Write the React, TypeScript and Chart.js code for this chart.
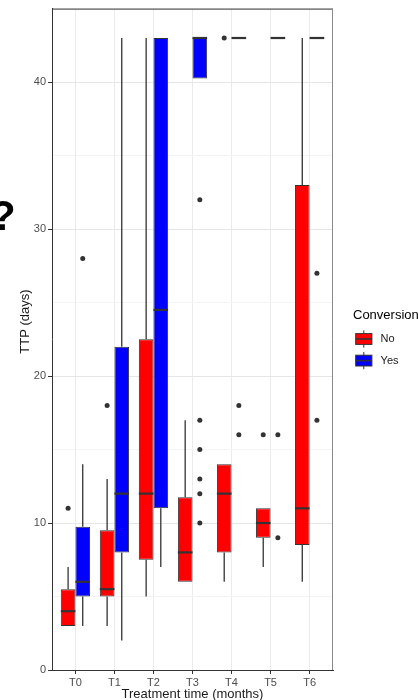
import React, { useEffect, useRef } from 'react';
import { Chart, registerables } from 'chart.js';

Chart.register(...registerables);

// ---- data ----
const categories = ['T0', 'T1', 'T2', 'T3', 'T4', 'T5', 'T6'];
const seriesNames = ['No', 'Yes'];
const seriesColors = ['#ff0000', '#0000ff'];

const noLower = [3, 3, 5, 6, 6, 7, 6];
const noQ1 = [3, 5, 7.5, 6, 8, 9, 8.5];
const noMedian = [4, 5.5, 12, 8, 12, 10, 11];
const noQ3 = [5.5, 9.5, 22.5, 11.75, 14, 11, 33];
const noUpper = [7, 13, 43, 17, 14, 11, 43];
const noOutliers = [[11], [18], [], [], [43], [16], []];

const yesLower = [3, 2, 7, 40.25, 43, 43, 43];
const yesQ1 = [5, 8, 11, 40.25, 43, 43, 43];
const yesMedian = [6, 12, 24.5, 43, 43, 43, 43];
const yesQ3 = [9.75, 22, 43, 43, 43, 43, 43];
const yesUpper = [14, 43, 43, 43, 43, 43, 43];
const yesOutliers = [[28], [], [], [32, 17, 15, 13, 12, 10], [18, 16], [16, 9], [27, 17]];

const yAxisMax = 45;
const yTickStep = 5;
const yLabelStep = 10;

const xTitle = 'Treatment time (months)';
const yTitle = 'TTP (days)';
const legendTitle = 'Conversion';

// ---- layout / style constants ----
const DODGE = 0.75;
const FONT = '"Liberation Sans", Arial, Helvetica, sans-serif';
const DARK = '#333333';

const boxStats = [
  { lower: noLower, median: noMedian, upper: noUpper },
  { lower: yesLower, median: yesMedian, upper: yesUpper },
];

const boxPlugin = {
  id: 'boxplotParts',
  beforeDatasetsDraw(chart: any) {
    const { ctx, chartArea } = chart;
    const y = chart.scales.y;
    ctx.save();
    // panel border top / right
    ctx.strokeStyle = DARK;
    ctx.lineWidth = 1;
    ctx.beginPath();
    ctx.moveTo(chartArea.left, chartArea.top + 0.5);
    ctx.lineTo(chartArea.right, chartArea.top + 0.5);
    ctx.stroke();
    ctx.strokeStyle = '#8a8a8a';
    ctx.beginPath();
    ctx.moveTo(chartArea.right - 0.5, chartArea.top);
    ctx.lineTo(chartArea.right - 0.5, chartArea.bottom);
    ctx.stroke();
    // whiskers
    ctx.strokeStyle = DARK;
    ctx.lineWidth = 1.3;
    boxStats.forEach((st, d) => {
      const meta = chart.getDatasetMeta(d);
      meta.data.forEach((el: any, i: number) => {
        const raw = chart.data.datasets[d].data[i].y;
        const x = el.x;
        ctx.beginPath();
        ctx.moveTo(x, y.getPixelForValue(st.lower[i]));
        ctx.lineTo(x, y.getPixelForValue(raw[0]));
        ctx.moveTo(x, y.getPixelForValue(raw[1]));
        ctx.lineTo(x, y.getPixelForValue(st.upper[i]));
        ctx.stroke();
      });
    });
    ctx.restore();
  },
  afterDatasetsDraw(chart: any) {
    const { ctx, chartArea } = chart;
    const y = chart.scales.y;
    ctx.save();
    // medians
    ctx.strokeStyle = DARK;
    ctx.lineWidth = 2.2;
    boxStats.forEach((st, d) => {
      const meta = chart.getDatasetMeta(d);
      meta.data.forEach((el: any, i: number) => {
        const py = y.getPixelForValue(st.median[i]);
        ctx.beginPath();
        ctx.moveTo(el.x - el.width / 2, py);
        ctx.lineTo(el.x + el.width / 2, py);
        ctx.stroke();
      });
    });
    // axis titles
    ctx.fillStyle = '#1a1a1a';
    ctx.font = `13px ${FONT}`;
    ctx.textAlign = 'center';
    ctx.textBaseline = 'alphabetic';
    ctx.fillText(xTitle, (chartArea.left + chartArea.right) / 2, 698);
    ctx.save();
    ctx.translate(25, 321.5);
    ctx.rotate(-Math.PI / 2);
    ctx.textBaseline = 'middle';
    ctx.fillText(yTitle, 0, 0);
    ctx.restore();
    // legend
    const lx = chartArea.right + 20;
    ctx.textAlign = 'left';
    ctx.textBaseline = 'middle';
    ctx.font = `13px ${FONT}`;
    ctx.fillStyle = '#000';
    ctx.fillText(legendTitle, lx, 315);
    const kw = 21.6;
    seriesNames.forEach((name, k) => {
      const cy = 339 + k * kw;
      const cx = lx + kw / 2;
      ctx.strokeStyle = DARK;
      ctx.lineWidth = 1;
      ctx.beginPath();
      ctx.moveTo(cx, cy - kw * 0.4);
      ctx.lineTo(cx, cy + kw * 0.4);
      ctx.stroke();
      ctx.fillStyle = seriesColors[k];
      const bx = lx + kw * 0.125;
      const by = cy - kw * 0.25;
      ctx.fillRect(bx, by, kw * 0.75, kw * 0.5);
      ctx.strokeRect(bx, by, kw * 0.75, kw * 0.5);
      ctx.lineWidth = 1.6;
      ctx.beginPath();
      ctx.moveTo(bx, cy);
      ctx.lineTo(bx + kw * 0.75, cy);
      ctx.stroke();
      ctx.fillStyle = '#1a1a1a';
      ctx.font = `11px ${FONT}`;
      ctx.fillText(name, lx + kw + 6, cy);
    });
    ctx.restore();
  },
};

export default function App() {
  const ref = useRef<HTMLCanvasElement>(null);

  useEffect(() => {
    const canvas = ref.current;
    if (!canvas) return;
    const q1s = [noQ1, yesQ1];
    const q3s = [noQ3, yesQ3];
    const outs = [noOutliers, yesOutliers];
    const barSets = seriesNames.map((name, d) => ({
      type: 'bar' as const,
      label: name,
      data: categories.map((_, i) => ({ x: i, y: [q1s[d][i], q3s[d][i]] })),
      backgroundColor: seriesColors[d],
      borderColor: DARK,
      borderWidth: 1,
      borderSkipped: false,
      categoryPercentage: DODGE,
      barPercentage: 1,
      order: 1,
    }));
    const outlierSets = seriesNames.map((name, d) => ({
      type: 'scatter' as const,
      label: name + ' outliers',
      data: categories.flatMap((_, i) =>
        outs[d][i].map((v) => ({ x: i + (d === 0 ? -1 : 1) * (DODGE / 4), y: v }))
      ),
      backgroundColor: DARK,
      borderWidth: 0,
      pointRadius: 2.5,
      order: 0,
    }));

    const chart = new Chart(canvas, {
      type: 'bar',
      data: { datasets: [...barSets, ...outlierSets] as any },
      options: {
        responsive: false,
        animation: false,
        devicePixelRatio: 1,
        layout: { padding: { top: 8, right: 85, left: 0, bottom: 0 } },
        plugins: { legend: { display: false }, tooltip: { enabled: false } },
        scales: {
          x: {
            type: 'linear',
            min: -0.6,
            max: categories.length - 0.4,
            offset: false,
            grid: { offset: false, color: '#ebebeb', tickColor: DARK, tickLength: 4, lineWidth: 1 },
            border: { color: DARK, width: 1 },
            ticks: {
              stepSize: 1,
              includeBounds: false,
              autoSkip: false,
              maxRotation: 0,
              padding: 2,
              color: '#4d4d4d',
              font: { family: FONT, size: 11 },
              callback: (v: any) => categories[v] ?? '',
            },
            afterFit: (s: any) => {
              s.height = 30;
            },
          },
          y: {
            type: 'linear',
            min: 0,
            max: yAxisMax,
            grid: {
              color: (c: any) => (c.tick && c.tick.value % yLabelStep === 0 ? '#e6e6e6' : '#f4f4f4'),
              tickColor: (c: any) => (c.tick && c.tick.value % yLabelStep === 0 && c.tick.value < yAxisMax ? DARK : 'rgba(0,0,0,0)'),
              tickLength: 4,
              lineWidth: 1,
            },
            border: { color: DARK, width: 1 },
            ticks: {
              stepSize: yTickStep,
              autoSkip: false,
              padding: 2,
              color: '#4d4d4d',
              font: { family: FONT, size: 11 },
              callback: (v: any) => (v % yLabelStep === 0 ? String(v) : ''),
            },
            afterFit: (s: any) => {
              s.width = 52;
            },
          },
        },
      } as any,
      plugins: [boxPlugin],
    });
    return () => chart.destroy();
  }, []);

  return (
    <div style={{ position: 'absolute', left: 0, top: 0, width: 418, height: 700, background: '#fff', overflow: 'hidden' }}>
      <canvas ref={ref} width={418} height={700} style={{ position: 'absolute', left: 0, top: 0 }} />
      <div
        style={{
          position: 'absolute',
          left: -10,
          top: 195,
          fontFamily: FONT,
          fontWeight: 'bold',
          fontSize: 42,
          lineHeight: '42px',
          color: '#000',
        }}
      >
        ?
      </div>
    </div>
  );
}
